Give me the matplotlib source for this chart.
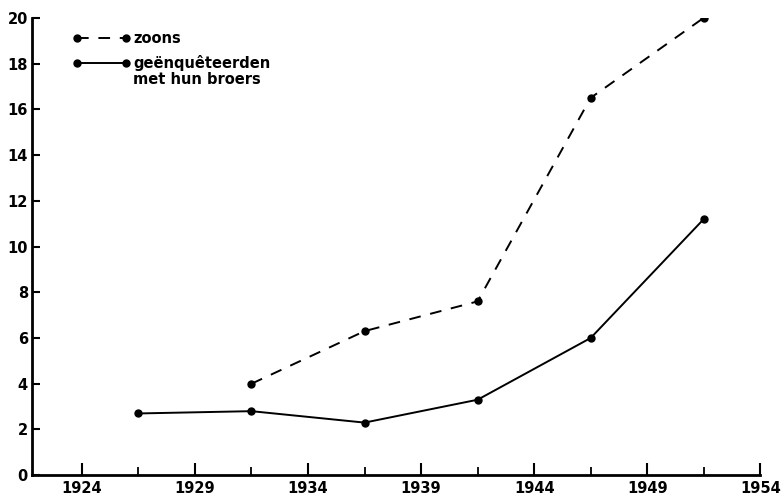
import matplotlib.pyplot as plt
from matplotlib.ticker import FixedLocator

# Datos
jaren_zoons = [1931.5, 1936.5, 1941.5, 1946.5, 1951.5]
zoons = [4.0, 6.3, 7.6, 16.5, 20.0]

jaren_broers = [1926.5, 1931.5, 1936.5, 1941.5, 1946.5, 1951.5]
broers = [2.7, 2.8, 2.3, 3.3, 6.0, 11.2]

x_ticks = [1924, 1929, 1934, 1939, 1944, 1949, 1954]
x_minor = [1926.5, 1931.5, 1936.5, 1941.5, 1946.5, 1951.5]
y_ticks = list(range(0, 21, 2))

fig = plt.figure(figsize=(7.83, 4.95), dpi=100)
ax = fig.add_axes([0.041, 0.040, 0.930, 0.924])

ax.plot(jaren_zoons, zoons, color='black', lw=1.4, dashes=(6, 5),
        marker='o', ms=5, label='zoons')
ax.plot(jaren_broers, broers, color='black', lw=1.4,
        marker='o', ms=5, label='geënquêteerden')

ax.set_xlim(1921.8, 1954)
ax.set_ylim(0, 20)
ax.set_xticks(x_ticks)
ax.xaxis.set_minor_locator(FixedLocator(x_minor))
ax.set_yticks(y_ticks)

for s in ['top', 'right']:
    ax.spines[s].set_visible(False)
for s in ['left', 'bottom']:
    ax.spines[s].set_linewidth(2)

ax.tick_params(axis='x', which='major', direction='in', length=9, width=1.5, pad=4)
ax.tick_params(axis='x', which='minor', direction='in', length=6, width=1.3)
ax.tick_params(axis='y', direction='in', length=6, width=1.5, pad=3)

for lab in ax.get_xticklabels() + ax.get_yticklabels():
    lab.set_fontweight('bold')
    lab.set_fontsize(10.5)

leg = ax.legend(loc='upper left', bbox_to_anchor=(0.037, 1.0), frameon=False,
                numpoints=2, handlelength=4.0, handletextpad=0.2, labelspacing=0.65,
                prop={'weight': 'bold', 'size': 10.5})

# tweede regel van het legendalabel
fig.canvas.draw()
t = leg.get_texts()[1]
bb = t.get_window_extent()
fig.text(bb.x0 / fig.bbox.width, (bb.y0 - 1) / fig.bbox.height, 'met hun broers',
         fontsize=10.5, fontweight='bold', va='top', ha='left')

fig.savefig('out.png', dpi=100)
